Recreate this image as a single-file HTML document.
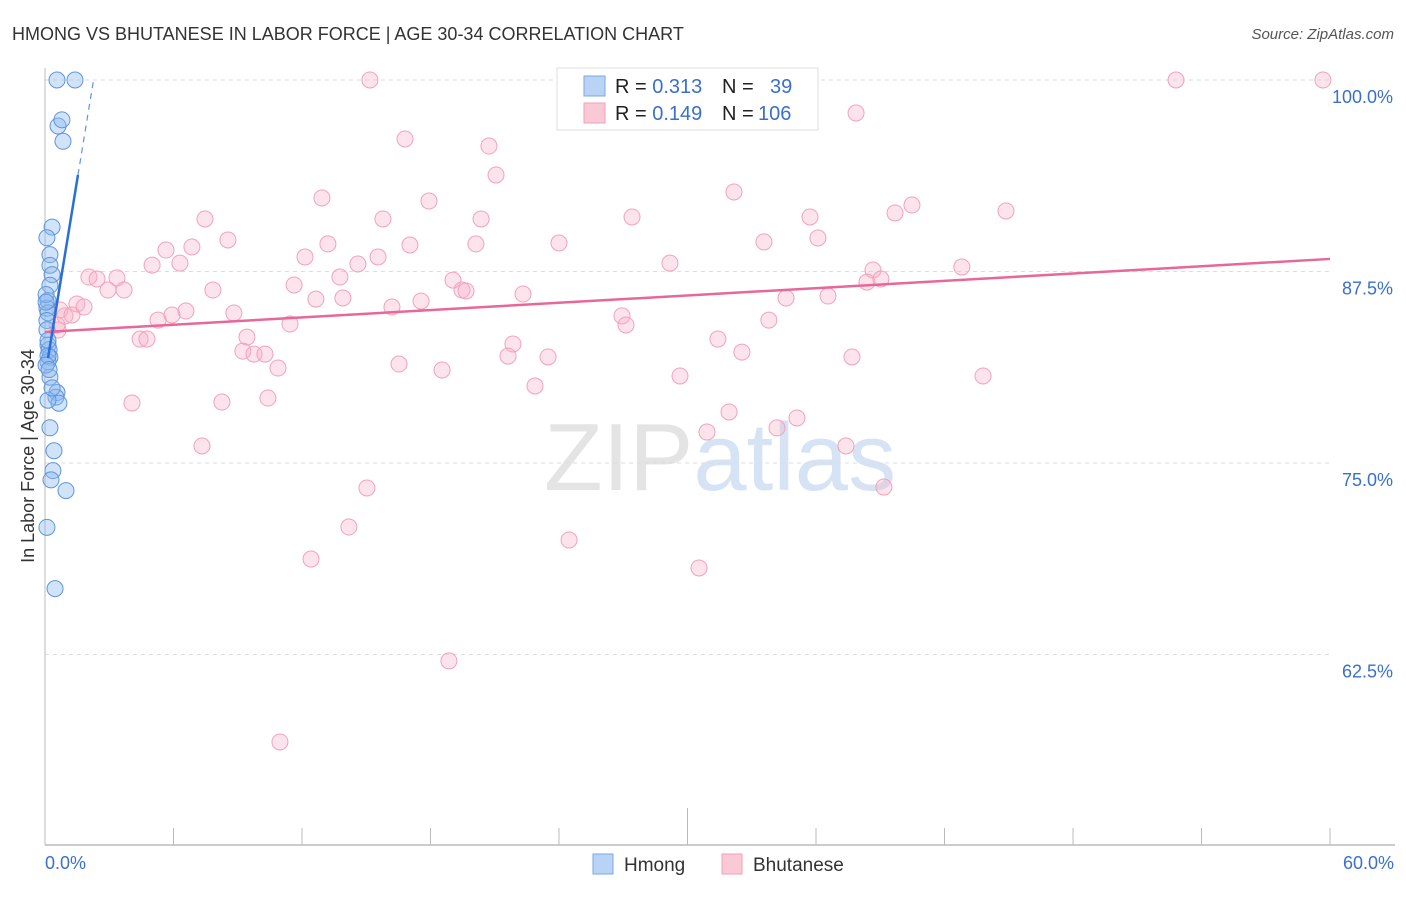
<!DOCTYPE html>
<html><head><meta charset="utf-8"><style>
body{margin:0;background:#fff;font-family:"Liberation Sans",sans-serif;}
svg text{font-family:"Liberation Sans",sans-serif;}
</style></head><body>
<svg id="chart" width="1406" height="892" xmlns="http://www.w3.org/2000/svg">
<text x="12" y="40" font-size="18" fill="#333">HMONG VS BHUTANESE IN LABOR FORCE | AGE 30-34 CORRELATION CHART</text>
<text x="1394" y="39" font-size="15" fill="#555" text-anchor="end" font-style="italic">Source: ZipAtlas.com</text>
<text transform="translate(34,456) rotate(-90)" font-size="18" fill="#333" text-anchor="middle">In Labor Force | Age 30-34</text>
<text x="720" y="490" font-size="96" text-anchor="middle" fill="#e4e4e4" font-family="Liberation Serif">ZIP<tspan fill="#d5e3f5" font-family="Liberation Sans">atlas</tspan></text>
<g id="grid"></g><g id="axes"></g><g id="pts"></g><g id="lines"></g>
<g>
<rect x="557" y="68" width="261" height="62" fill="#fff" stroke="#ddd"/>
<rect x="584" y="76" width="21" height="20" fill="#b8d3f5" stroke="#7aa8e6"/>
<rect x="584" y="103" width="21" height="20" fill="#fbc8d6" stroke="#f0a0b8"/>
<text x="615" y="93" font-size="20" fill="#222">R = <tspan fill="#3a6fd0">0.313</tspan><tspan x="722">N = </tspan><tspan x="770" fill="#3a6fd0">39</tspan></text>
<text x="615" y="120" font-size="20" fill="#222">R = <tspan fill="#3a6fd0">0.149</tspan><tspan x="722">N = </tspan><tspan x="758" fill="#3a6fd0">106</tspan></text>
</g>
<g>
<rect x="593" y="854" width="20" height="20" fill="#b8d3f5" stroke="#7aa8e6"/>
<text x="624" y="871" font-size="19" fill="#333">Hmong</text>
<rect x="722" y="854" width="20" height="20" fill="#fbc8d6" stroke="#f0a0b8"/>
<text x="753" y="871" font-size="19" fill="#333">Bhutanese</text>
</g>
</svg>
<script>
const yTicks=[100,87.5,75,62.5];
const yTickLabels=["100.0%","87.5%","75.0%","62.5%"];
const xTickLabels=["0.0%","60.0%"];
const hmongX=[0.56,1.40,0.61,0.79,0.84,0.33,0.09,0.23,0.23,0.33,0.23,0.14,0.09,0.14,0.09,0.14,0.19,0.23,0.14,0.23,0.56,0.51,0.65,0.14,0.23,0.42,0.37,0.28,0.98,0.09,0.47,0.05,0.05,0.09,0.14,0.14,0.05,0.19,0.33];
const hmongY=[100,100,97.0,97.4,96.0,90.4,89.7,88.6,87.9,87.3,86.6,85.6,85.1,84.8,84.3,82.7,82.4,81.9,81.6,80.6,79.6,79.3,78.9,79.1,77.3,75.8,74.5,73.9,73.2,70.8,66.8,86.0,85.5,83.7,83.0,82.0,81.4,81.1,79.9];
const bhutX=[15.17,52.81,59.67,37.87,16.81,20.73,21.06,12.93,17.93,32.17,7.47,15.78,20.36,27.41,35.72,39.69,40.48,44.87,8.54,5.65,6.86,13.21,17.04,20.12,24.00,33.57,36.09,12.14,15.55,5.00,6.30,14.61,29.18,42.81,38.66,38.38,39.03,2.05,2.43,3.36,2.94,3.69,7.84,11.63,13.77,19.05,19.47,19.66,22.32,12.65,13.91,17.56,16.20,34.60,36.56,1.49,1.82,0.70,0.93,1.26,0.56,6.58,5.93,5.28,8.82,11.44,26.94,27.13,33.80,4.44,4.76,9.43,9.24,9.76,10.27,31.42,32.54,21.85,21.62,23.49,37.68,16.53,18.54,10.88,29.65,43.80,22.88,4.06,8.26,10.41,31.94,35.11,34.18,30.91,7.33,37.40,15.03,39.17,14.19,24.47,12.42,30.54,18.86,10.97,0.61];
const bhutY=[100,100,100,97.85,96.15,95.69,93.80,92.30,92.10,92.69,90.93,90.93,90.93,91.06,91.06,91.32,91.84,91.45,89.56,88.90,89.10,89.30,89.23,89.30,89.36,89.43,89.69,88.45,88.45,87.92,88.05,87.99,88.05,87.79,87.60,86.81,87.01,87.14,87.01,87.08,86.29,86.29,86.29,86.62,87.14,86.94,86.29,86.23,86.03,85.70,85.77,85.57,85.18,85.77,85.90,85.38,85.18,84.99,84.60,84.66,84.01,84.92,84.66,84.33,84.79,84.07,84.60,84.01,84.33,83.09,83.09,83.22,82.30,82.11,82.11,83.09,82.24,82.77,81.98,81.92,81.92,81.46,81.07,81.20,80.68,80.68,80.03,78.92,78.98,79.24,78.33,77.94,77.29,77.02,76.11,76.11,73.37,73.43,70.82,69.97,68.73,68.15,62.08,56.79,83.68];
const hmongFit=[80.65,8.54];
const bhutFit=[83.55,0.0795];
const NS="http://www.w3.org/2000/svg";
const X=v=>45+v/60*1285;
const Y=v=>80+(100-v)/12.5*191.5;
function mk(tag,attrs,parent){const e=document.createElementNS(NS,tag);for(const k in attrs)e.setAttribute(k,attrs[k]);parent.appendChild(e);return e;}
const grid=document.getElementById('grid'),axes=document.getElementById('axes'),pts=document.getElementById('pts'),lines=document.getElementById('lines');
yTicks.forEach((t,i)=>{
 const l=mk('line',{x1:45,x2:1330,y1:Y(t),y2:Y(t),stroke:'#ddd','stroke-dasharray':'4,4'},grid);
 
 
 const tx=mk('text',{x:1393,y:Y(t)+23,'font-size':18,fill:'#3a6fd0','text-anchor':'end'},axes);
 tx.textContent=yTickLabels[i];
 
 
});
mk('line',{x1:45,x2:45,y1:68,y2:845,stroke:'#bbb'},axes);
mk('line',{x1:45,x2:1395,y1:845,y2:845,stroke:'#bbb','stroke-width':1.5},axes);
for(let i=0;i<=10;i++){const x=X(i*6);const t=mk('line',{x1:x,x2:x,y1:i==5?808:828,y2:845,stroke:'#bbb'},axes);
 
 }
const xl0=mk('text',{x:45,y:869,'font-size':18,fill:'#3a6fd0'},axes);xl0.textContent=xTickLabels[0];


const xl1=mk('text',{x:1394,y:869,'font-size':18,fill:'#3a6fd0','text-anchor':'end'},axes);xl1.textContent=xTickLabels[1];


bhutX.forEach((v,i)=>{const c=mk('circle',{cx:X(v),cy:Y(bhutY[i]),r:8,fill:'rgba(248,175,198,0.35)',stroke:'#f0a3bb','stroke-width':1},pts);
 
 });
hmongX.forEach((v,i)=>{const c=mk('circle',{cx:X(v),cy:Y(hmongY[i]),r:8,fill:'rgba(140,185,240,0.4)',stroke:'#5f95dd','stroke-width':1},pts);
 
 });
const bl=mk('line',{x1:X(0),y1:Y(bhutFit[0]),x2:X(60),y2:Y(bhutFit[0]+bhutFit[1]*60),stroke:'#e8679a','stroke-width':2.5},lines);


const hx1=0.14,hx2=1.54,hx3=(100-hmongFit[0])/hmongFit[1];
const hl=mk('line',{x1:X(hx1),y1:Y(hmongFit[0]+hmongFit[1]*hx1),x2:X(hx2),y2:Y(hmongFit[0]+hmongFit[1]*hx2),stroke:'#2a6fd8','stroke-width':2.5},lines);


const hd=mk('line',{x1:X(hx2),y1:Y(hmongFit[0]+hmongFit[1]*hx2),x2:X(hx3),y2:Y(100),stroke:'#5f95dd','stroke-width':1.2,'stroke-dasharray':'6,5'},lines);


</script>
</body></html>
